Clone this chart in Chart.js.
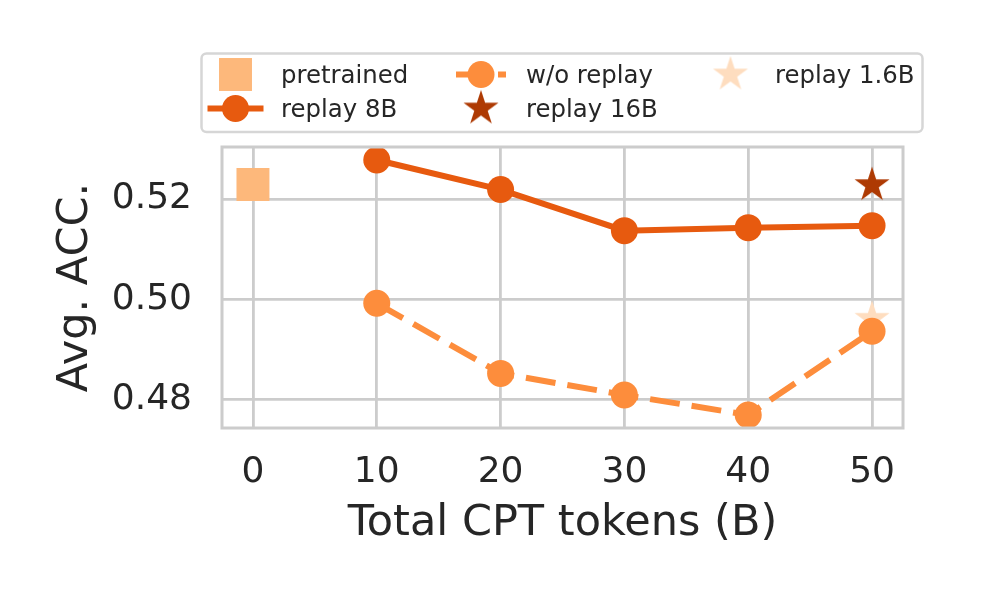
<!DOCTYPE html>
<html>
<head>
<meta charset="utf-8">
<script src="https://cdn.jsdelivr.net/npm/chart.js@4.4.1/dist/chart.umd.min.js"></script>
<style>
  html, body { margin: 0; padding: 0; background: #fff; overflow: hidden; }
  #grafico { display: block; }
</style>
</head>
<body>
<canvas id="grafico" width="1004" height="590"></canvas>
<script>
// axis ticks
const xTicks = [0, 10, 20, 30, 40, 50];
const yTicks = [0.48, 0.50, 0.52];

// Total CPT tokens (B)
const tokens = [10, 20, 30, 40, 50];
const replay8B = [0.5278, 0.5219, 0.5137, 0.5143, 0.5147];
const woReplay = [0.4992, 0.4852, 0.4809, 0.4769, 0.4936];

const pretrainedTokens = [0];
const pretrained = [0.5229];
const replay16BTokens = [50];
const replay16B = [0.5228];
const replay1_6BTokens = [50];
const replay1_6B = [0.4961];

const labels = ['pretrained', 'replay 8B', 'w/o replay', 'replay 16B', 'replay 1.6B'];

const cPretrained = '#FDB87B';
const c8B = '#E75A0F';
const cWo = '#FD8D3C';
const c16B = '#AE3A03';
const c1_6B = '#FEDDBF';
const textColor = '#262626';
const gridColor = '#cccccc';

function points(xs, ys) {
  return xs.map((x, i) => ({ x: x, y: ys[i] }));
}

// filled 5 point star, like matplotlib '*'
function star(color, r) {
  const size = Math.ceil(r) * 2 + 4;
  const c = document.createElement('canvas');
  c.width = size;
  c.height = size;
  const ctx = c.getContext('2d');
  const inner = r * 0.381966;
  ctx.beginPath();
  for (let i = 0; i < 10; i++) {
    const rad = i % 2 === 0 ? r : inner;
    const a = -Math.PI / 2 + i * Math.PI / 5;
    const px = size / 2 + rad * Math.cos(a);
    const py = size / 2 + rad * Math.sin(a);
    if (i === 0) ctx.moveTo(px, py); else ctx.lineTo(px, py);
  }
  ctx.closePath();
  ctx.fillStyle = color;
  ctx.fill();
  return c;
}

// legend positions (3 columns, 2 rows, filled column by column)
const legendCols = [235.5, 481, 730.5];
const legendText = [281, 526, 775];
const legendRows = [74.5, 108.5];

const boxLegend = {
  id: 'boxLegend',
  afterDraw(chart) {
    const ctx = chart.ctx;
    ctx.save();
    ctx.beginPath();
    ctx.roundRect(201.5, 53.5, 721, 78.5, 5);
    ctx.fillStyle = '#ffffff';
    ctx.fill();
    ctx.strokeStyle = '#d6d6d6';
    ctx.lineWidth = 2.5;
    ctx.stroke();

    chart.data.datasets.forEach((ds, i) => {
      const col = Math.floor(i / 2);
      const cx = legendCols[col];
      const cy = legendRows[i % 2];
      if (ds.showLine !== false) {
        ctx.beginPath();
        ctx.setLineDash(ds.borderDash || []);
        ctx.lineCap = ds.borderDash ? 'butt' : 'square';
        ctx.moveTo(cx - 25, cy);
        ctx.lineTo(cx + 25, cy);
        ctx.strokeStyle = ds.borderColor;
        ctx.lineWidth = ds.borderWidth;
        ctx.stroke();
        ctx.setLineDash([]);
      }
      const st = ds.pointStyle;
      if (st instanceof HTMLCanvasElement) {
        ctx.drawImage(st, cx - st.width / 2, cy - st.height / 2);
      } else if (st === 'rect') {
        const s = ds.pointRadius * Math.SQRT1_2;
        ctx.fillStyle = ds.pointBackgroundColor;
        ctx.fillRect(cx - s, cy - s, 2 * s, 2 * s);
      } else {
        ctx.beginPath();
        ctx.arc(cx, cy, ds.pointRadius, 0, 2 * Math.PI);
        ctx.fillStyle = ds.pointBackgroundColor;
        ctx.fill();
      }
      ctx.fillStyle = textColor;
      ctx.font = '24.4px "DejaVu Sans"';
      ctx.textAlign = 'left';
      ctx.textBaseline = 'alphabetic';
      ctx.fillText(ds.label, legendText[col], cy + 8);
    });
    ctx.restore();
  }
};

// frame around the plot area
const frame = {
  id: 'frame',
  afterDatasetsDraw(chart) {
    const a = chart.chartArea;
    const ctx = chart.ctx;
    ctx.save();
    ctx.strokeStyle = gridColor;
    ctx.lineWidth = 3;
    ctx.strokeRect(a.left, a.top, a.right - a.left, a.bottom - a.top);
    ctx.restore();
  }
};

const ctx1 = document.getElementById('grafico');

new Chart(ctx1, {
  type: 'line',
  data: {
    datasets: [{
      label: labels[0],
      data: points(pretrainedTokens, pretrained),
      showLine: false,
      pointStyle: 'rect',
      pointRadius: 23.3,
      pointBorderWidth: 0,
      pointBackgroundColor: cPretrained,
      backgroundColor: cPretrained,
      borderColor: cPretrained,
      order: 3,
      clip: false
    }, {
      label: labels[1],
      data: points(tokens, replay8B),
      borderColor: c8B,
      borderWidth: 6,
      pointStyle: 'circle',
      pointRadius: 13.5,
      pointBorderWidth: 0,
      pointBackgroundColor: c8B,
      order: 3,
      clip: false
    }, {
      label: labels[2],
      data: points(tokens, woReplay),
      borderColor: cWo,
      borderWidth: 6,
      borderDash: [30, 12],
      pointStyle: 'circle',
      pointRadius: 13.5,
      pointBorderWidth: 0,
      pointBackgroundColor: cWo,
      order: 1,
      clip: false
    }, {
      label: labels[3],
      data: points(replay16BTokens, replay16B),
      showLine: false,
      pointStyle: star(c16B, 18.4),
      pointRadius: 18,
      pointBackgroundColor: c16B,
      borderColor: c16B,
      order: 3,
      clip: false
    }, {
      label: labels[4],
      data: points(replay1_6BTokens, replay1_6B),
      showLine: false,
      pointStyle: star(c1_6B, 18.4),
      pointRadius: 18,
      pointBackgroundColor: c1_6B,
      borderColor: c1_6B,
      order: 2,
      clip: false
    }]
  },
  options: {
    responsive: false,
    animation: false,
    layout: {
      padding: { left: 0, top: 147, right: 101, bottom: 0 }
    },
    scales: {
      x: {
        type: 'linear',
        min: -2.5,
        max: 52.5,
        afterBuildTicks: (scale) => { scale.ticks = xTicks.map(v => ({ value: v })); },
        afterFit: (scale) => { scale.height = 162; },
        grid: { color: gridColor, lineWidth: 2.8, drawTicks: false },
        border: { display: false },
        ticks: {
          autoSkip: false,
          maxRotation: 0,
          padding: 23,
          color: textColor,
          font: { family: 'DejaVu Sans', size: 36 },
          callback: (v) => String(v)
        },
        title: {
          display: true,
          text: 'Total CPT tokens (B)',
          color: textColor,
          font: { family: 'DejaVu Sans', size: 43 },
          padding: { top: 0, bottom: 40 }
        }
      },
      y: {
        min: 0.4743,
        max: 0.5304,
        afterBuildTicks: (scale) => { scale.ticks = yTicks.map(v => ({ value: v })); },
        afterFit: (scale) => { scale.width = 222; },
        grid: { color: gridColor, lineWidth: 2.8, drawTicks: false },
        border: { display: false },
        ticks: {
          autoSkip: false,
          padding: 30,
          color: textColor,
          font: { family: 'DejaVu Sans', size: 36 },
          callback: (v) => v.toFixed(2)
        },
        title: {
          display: true,
          text: 'Avg. ACC.',
          color: textColor,
          font: { family: 'DejaVu Sans', size: 43 },
          padding: { top: 50, bottom: 0 }
        }
      }
    },
    plugins: {
      legend: { display: false },
      tooltip: { enabled: false }
    }
  },
  plugins: [frame, boxLegend]
});
</script>
</body>
</html>
